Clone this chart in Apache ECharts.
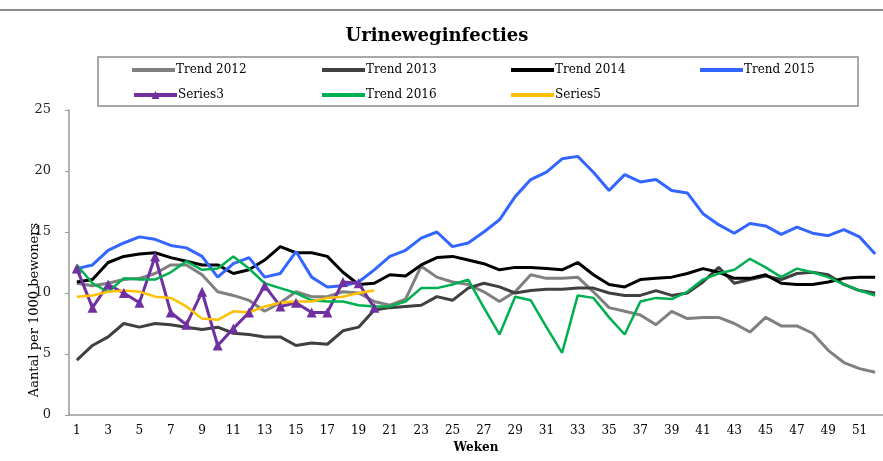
<!DOCTYPE html>
<html><head><meta charset="utf-8">
<script src="https://cdn.jsdelivr.net/npm/echarts@6/dist/echarts.min.js"></script>
<style>html,body{margin:0;padding:0;background:#fff}#c{width:883px;height:461px}</style>
</head><body><div id="c"></div>
<script>
const weeks = Array.from({length:52},(_,i)=>String(i+1));
const trend2012 = [10.8,10.6,10.8,11.1,11.2,11.6,12.3,12.3,11.5,10.1,9.8,9.4,8.5,9.2,10.1,9.7,9.7,10.1,10.0,9.3,9.0,9.5,12.2,11.3,10.9,10.7,10.1,9.3,10.1,11.5,11.2,11.2,11.3,10.1,8.8,8.5,8.2,7.4,8.5,7.9,8.0,8.0,7.5,6.8,8.0,7.3,7.3,6.7,5.3,4.3,3.8,3.5];
const trend2013 = [4.5,5.7,6.4,7.5,7.2,7.5,7.4,7.2,7.0,7.2,6.7,6.6,6.4,6.4,5.7,5.9,5.8,6.9,7.2,8.6,8.8,8.9,9.0,9.7,9.4,10.4,10.8,10.5,10.0,10.2,10.3,10.3,10.4,10.4,10.0,9.8,9.8,10.2,9.8,10.0,10.9,12.1,10.8,11.1,11.4,11.1,11.6,11.7,11.5,10.7,10.2,10.0];
const trend2014 = [10.9,11.1,12.5,13.0,13.2,13.3,12.9,12.6,12.3,12.3,11.6,11.9,12.7,13.8,13.3,13.3,13.0,11.7,10.7,10.8,11.5,11.4,12.3,12.9,13.0,12.7,12.4,11.9,12.1,12.1,12.0,11.9,12.5,11.5,10.7,10.5,11.1,11.2,11.3,11.6,12.0,11.7,11.2,11.2,11.5,10.8,10.7,10.7,10.9,11.2,11.3,11.3];
const trend2015 = [12.0,12.3,13.5,14.1,14.6,14.4,13.9,13.7,13.0,11.3,12.4,12.9,11.3,11.6,13.4,11.3,10.5,10.6,10.9,11.9,13.0,13.5,14.5,15.0,13.8,14.1,15.0,16.0,17.9,19.3,19.9,21.0,21.2,19.9,18.4,19.7,19.1,19.3,18.4,18.2,16.5,15.6,14.9,15.7,15.5,14.8,15.4,14.9,14.7,15.2,14.6,13.2];
const series3 = [12.0,8.8,10.7,10.0,9.2,13.0,8.4,7.4,10.1,5.7,7.1,8.4,10.6,8.9,9.2,8.4,8.4,10.9,10.8,8.8];
const trend2016 = [12.3,10.8,10.1,11.2,11.1,11.1,11.7,12.6,11.9,12.0,13.0,12.0,10.8,10.4,10.0,9.4,9.3,9.3,9.0,8.9,8.9,9.3,10.4,10.4,10.7,11.1,8.8,6.6,9.7,9.4,7.2,5.1,9.8,9.6,8.0,6.6,9.3,9.6,9.5,10.1,11.1,11.6,11.9,12.8,12.1,11.3,12.0,11.7,11.3,10.7,10.2,9.8];
const series5 = [9.7,9.8,10.1,10.2,10.1,9.7,9.6,8.9,7.9,7.8,8.5,8.4,8.9,9.2,9.3,9.3,9.6,9.7,10.0,10.2];
const yTicks = [0,5,10,15,20,25];

const wide = '"DejaVu Serif",serif';
const chart = echarts.init(document.getElementById('c'));
function ln(name, data, color, extra){
  return Object.assign({name, type:'line', data, symbol:'none', smooth:false,
    lineStyle:{color, width:3}, itemStyle:{color}, animation:false}, extra||{});
}
const legendPos = [
  ['Trend 2012',132,71,'rect'],['Trend 2013',322,71,'rect'],['Trend 2014',511,71,'rect'],['Trend 2015',700,71,'rect'],
  ['Series3',132,96,null],['Trend 2016',322,96,'rect'],['Series5',511,96,'rect']
];
chart.setOption({
  animation:false,
  graphic:[
    {type:'line', shape:{x1:0,y1:10,x2:883,y2:10}, style:{stroke:'#8c8c8c', lineWidth:2}},
    {type:'rect', shape:{x:98,y:57,width:760,height:49}, style:{fill:'none', stroke:'#8c8c8c', lineWidth:1.5}},
    {type:'text', x:35, y:310, rotation:Math.PI/2, style:{text:'Aantal per 1000 bewoners', font:'13px '+wide, fill:'#000', textAlign:'center', textVerticalAlign:'middle'}},
    {type:'text', x:437, y:36, style:{text:'Urineweginfecties', font:'bold 18px '+wide, fill:'#000', textAlign:'center', textVerticalAlign:'middle'}}
  ],
  legend: legendPos.map(([n,x,y,ic])=>({data:[ic?{name:n, icon:ic}:{name:n}], left:x, top:y-7, padding:0,
    itemWidth:43, itemHeight: ic?4:10, itemGap:0, lineStyle: ic?undefined:{width:4},
    textStyle:{fontFamily:wide, fontSize:12, color:'#000', padding:[0,0,0,-4]}, selectedMode:false})),
  grid:{left:69, right:-3, top:110, bottom:46},
  xAxis:{type:'category', data:weeks, boundaryGap:true, name:'Weken', nameLocation:'middle', nameGap:27,
    nameTextStyle:{fontFamily:wide, fontWeight:'bold', fontSize:12, color:'#000'},
    axisLine:{lineStyle:{color:'#999', width:1.5}},
    axisTick:{interval:0, length:4, lineStyle:{color:'#999'}},
    axisLabel:{interval:1, fontFamily:wide, fontSize:12, color:'#000', margin:10}},
  yAxis:{type:'value', min:0, max:25, interval:5,
    axisLine:{show:true, lineStyle:{color:'#999', width:1.5}},
    axisTick:{show:true, length:4, lineStyle:{color:'#999'}},
    splitLine:{show:false},
    axisLabel:{fontFamily:wide, fontSize:13, color:'#222', margin:18, formatter:v=>yTicks.includes(v)?String(v):''}},
  series:[
    ln('Trend 2012', trend2012, '#808080'),
    ln('Trend 2013', trend2013, '#404040'),
    ln('Trend 2014', trend2014, '#000000'),
    ln('Trend 2015', trend2015, '#3366ff'),
    ln('Series3', series3, '#7030a0', {symbol:'triangle', symbolSize:10, showSymbol:true}),
    ln('Trend 2016', trend2016, '#00b050', {lineStyle:{color:'#00b050', width:2.5}}),
    ln('Series5', series5, '#ffc000', {lineStyle:{color:'#ffc000', width:2.5}})
  ]
});
</script></body></html>
